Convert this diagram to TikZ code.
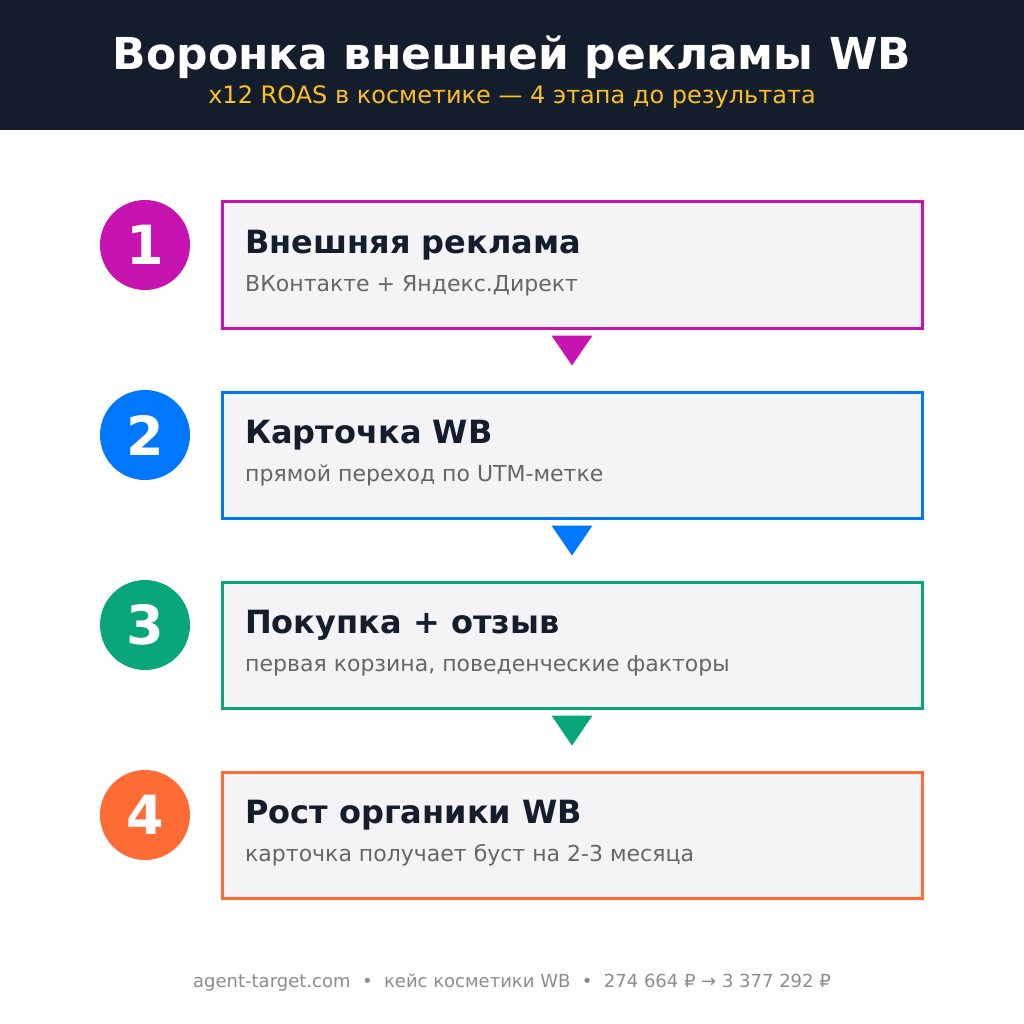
\documentclass[tikz,border=0pt]{standalone}
\usepackage{fontspec}
\setmainfont{DejaVu Sans}
\usepackage{tikz}
\usetikzlibrary{positioning}

\definecolor{headbg}{HTML}{131D2B}
\definecolor{amber}{HTML}{FBBF24}
\definecolor{stepA}{HTML}{C713AF}
\definecolor{stepB}{HTML}{0077FF}
\definecolor{stepC}{HTML}{08A67A}
\definecolor{stepD}{HTML}{FF6B35}
\definecolor{boxbg}{HTML}{F4F4F7}
\definecolor{subgray}{HTML}{666666}
\definecolor{footgray}{HTML}{8C8C8C}

\begin{document}
\begin{tikzpicture}[x=1pt, y=-1pt,
    num/.style={circle, minimum size=90pt, inner sep=0pt, text=white, font=\fontsize{54}{54}\selectfont\bfseries},
    stage/.style={draw, line width=3pt, fill=boxbg, minimum width=700pt, minimum height=126pt, inner sep=0pt},
    head/.style={anchor=base west, inner sep=0pt, text=headbg, font=\fontsize{32}{32}\selectfont\bfseries},
    note/.style={anchor=base west, inner sep=0pt, text=subgray, font=\fontsize{22}{22}\selectfont}]
  \useasboundingbox (0,0) rectangle (1024,1024);
  \fill[white] (0,0) rectangle (1024,1024);

  % Шапка
  \fill[headbg] (0,0) rectangle (1024,130);
  \node[anchor=base, inner sep=0pt, text=white, font=\fontsize{44}{44}\selectfont\bfseries] (title) at (512,70) {Воронка внешней рекламы WB};
  \node[anchor=base, inner sep=0pt, text=amber, font=\fontsize{24}{24}\selectfont] (subtitle) at (512,104) {x12 ROAS в косметике — 4 этапа до результата};

  % Номера
  \node[num, fill=stepA] (n1) at (145,245) {1};
  \node[num, fill=stepB] (n2) at (145,435) {2};
  \node[num, fill=stepC] (n3) at (145,625) {3};
  \node[num, fill=stepD] (n4) at (145,815) {4};

  % Этапы
  \node[stage, draw=stepA] (b1) at (572,265) {};
  \node[stage, draw=stepB] (b2) at (572,455) {};
  \node[stage, draw=stepC] (b3) at (572,645) {};
  \node[stage, draw=stepD] (b4) at (572,835) {};

  \node[head] (h1) at (245,253) {Внешняя реклама};
  \node[note] (s1) at (245,291) {ВКонтакте + Яндекс.Директ};
  \node[head] (h2) at (245,443) {Карточка WB};
  \node[note] (s2) at (245,481) {прямой переход по UTM-метке};
  \node[head] (h3) at (245,633) {Покупка + отзыв};
  \node[note] (s3) at (245,671) {первая корзина, поведенческие факторы};
  \node[head] (h4) at (245,823) {Рост органики WB};
  \node[note] (s4) at (245,861) {карточка получает буст на 2-3 месяца};

  % Стрелки
  \fill[stepA] ([xshift=-20.5pt, yshift=-6pt]b1.south) -- ([xshift=20.5pt, yshift=-6pt]b1.south) -- ([yshift=-36pt]b1.south) -- cycle;
  \fill[stepB] ([xshift=-20.5pt, yshift=-6pt]b2.south) -- ([xshift=20.5pt, yshift=-6pt]b2.south) -- ([yshift=-36pt]b2.south) -- cycle;
  \fill[stepC] ([xshift=-20.5pt, yshift=-6pt]b3.south) -- ([xshift=20.5pt, yshift=-6pt]b3.south) -- ([yshift=-36pt]b3.south) -- cycle;

  % Подвал
  \node[anchor=base, inner sep=0pt, text=footgray, font=\fontsize{18}{18}\selectfont] (footer) at (512,987) {agent-target.com \ • \ кейс косметики WB \ • \ 274 664 ₽ → 3 377 292 ₽};
\end{tikzpicture}
\end{document}
